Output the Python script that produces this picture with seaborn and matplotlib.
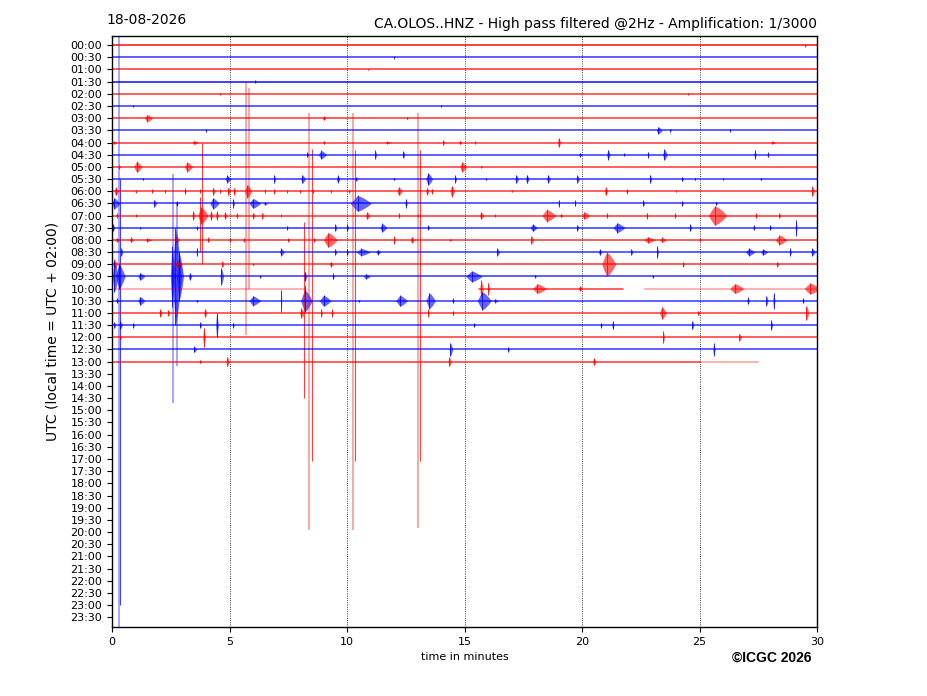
import pandas as pd
import matplotlib
matplotlib.use("Agg")
import matplotlib.pyplot as plt
import seaborn as sns

# half-hour row labels of the helicorder
hours = [f"{h:02d}:{m:02d}" for h in range(24) for m in (0, 30)]

# trace segments that carry data: (row, start minute, end minute)
trace_segments = [
    (0, 0, 30), (1, 0, 30), (2, 0, 30), (3, 0, 30), (4, 0, 30), (5, 0, 30),
    (6, 0, 30), (7, 0, 30), (8, 0, 30), (9, 0, 30), (10, 0, 30), (11, 0, 30),
    (12, 0, 30), (13, 0, 30), (14, 0, 30), (15, 0, 30), (16, 0, 30), (17, 0, 30),
    (18, 0, 30), (19, 0, 30), (20, 15.6, 21.75), (21, 0, 30), (22, 0, 30),
    (23, 0, 30), (24, 0, 30), (25, 0, 30), (26, 0, 25.0),
]
# faint segments (overlapping / partial data)
faint_segments = [(0, 0, 30), (3, 0, 30), (20, 0, 8.15), (20, 22.7, 30), (26, 25.0, 27.5)]

# events per row: (minute, half amplitude in rows, duration in minutes)
ev_00_00 = [(29.5, 0.12, 0.06)]
ev_00_30 = [(12.0, 0.1, 0.05)]
ev_01_00 = [(10.9, 0.08, 0.05)]
ev_01_30 = [(6.1, 0.12, 0.06)]
ev_02_00 = [(4.6, 0.08, 0.05), (24.5, 0.08, 0.05)]
ev_02_30 = [(0.9, 0.08, 0.05), (14.0, 0.08, 0.05)]
ev_03_00 = [(1.5, 0.3, 0.35), (9.0, 0.15, 0.2), (12.55, 0.1, 0.1)]
ev_03_30 = [(4.0, 0.12, 0.06), (23.25, 0.3, 0.25), (23.75, 0.1, 0.08), (26.3, 0.12, 0.06)]
ev_04_00 = [(0.1, 0.15, 0.15), (3.5, 0.15, 0.3), (9.0, 0.15, 0.1), (11.7, 0.1, 0.3),
            (14.1, 0.2, 0.1), (14.8, 0.15, 0.15), (15.45, 0.12, 0.06), (19.0, 0.4, 0.15),
            (28.1, 0.12, 0.2)]
ev_04_30 = [(8.3, 0.2, 0.1), (8.9, 0.35, 0.35), (11.2, 0.35, 0.1), (12.4, 0.3, 0.1),
            (19.9, 0.15, 0.15), (21.1, 0.4, 0.15), (21.8, 0.1, 0.06), (22.8, 0.25, 0.08),
            (23.5, 0.45, 0.2), (27.35, 0.35, 0.1), (27.9, 0.2, 0.08)]
ev_05_00 = [(0.3, 0.15, 0.1), (1.05, 0.45, 0.35), (3.2, 0.4, 0.35), (14.9, 0.4, 0.3),
            (15.7, 0.08, 0.1)]
ev_05_30 = [(1.3, 0.1, 0.05), (4.9, 0.3, 0.25), (6.9, 0.35, 0.1), (8.1, 0.35, 0.2),
            (9.6, 0.3, 0.15), (10.4, 0.15, 0.1), (12.0, 0.12, 0.06), (13.45, 0.5, 0.3),
            (14.6, 0.3, 0.1), (15.9, 0.1, 0.05), (17.2, 0.35, 0.15), (17.65, 0.35, 0.15),
            (18.55, 0.35, 0.15), (19.8, 0.3, 0.15), (22.9, 0.35, 0.1), (24.25, 0.2, 0.1),
            (24.8, 0.12, 0.06), (26.0, 0.1, 0.05), (27.6, 0.12, 0.06)]
ev_06_00 = [(0.15, 0.35, 0.2), (1.0, 0.12, 0.06), (1.7, 0.15, 0.06), (2.25, 0.12, 0.06),
            (3.1, 0.25, 0.1), (3.75, 0.15, 0.06), (4.3, 0.3, 0.15), (4.6, 0.15, 0.06),
            (4.95, 0.3, 0.15), (5.2, 0.3, 0.1), (5.75, 0.55, 0.3), (6.5, 0.15, 0.06),
            (6.9, 0.2, 0.06), (7.45, 0.12, 0.06), (8.0, 0.12, 0.06), (8.55, 0.15, 0.06),
            (9.3, 0.12, 0.06), (10.1, 0.12, 0.06), (12.2, 0.35, 0.25), (13.4, 0.3, 0.15),
            (13.6, 0.2, 0.1), (14.45, 0.45, 0.2), (17.0, 0.1, 0.05), (21.0, 0.35, 0.15),
            (21.9, 0.2, 0.1), (24.0, 0.1, 0.05), (29.8, 0.4, 0.15)]
ev_06_30 = [(0.1, 0.45, 0.35), (1.8, 0.3, 0.15), (2.75, 0.2, 0.1), (4.3, 0.45, 0.4),
            (5.15, 0.35, 0.1), (6.0, 0.4, 0.5), (6.5, 0.12, 0.2), (10.45, 0.65, 0.9),
            (12.5, 0.35, 0.1), (19.0, 0.3, 0.06), (19.7, 0.25, 0.06), (22.6, 0.25, 0.1),
            (24.25, 0.2, 0.1), (25.7, 0.15, 0.1)]
ev_07_00 = [(0.2, 0.2, 0.1), (1.0, 0.1, 0.05), (3.45, 0.35, 0.15), (3.8, 0.7, 0.45),
            (4.2, 0.35, 0.15), (4.45, 0.35, 0.15), (4.8, 0.3, 0.15), (5.3, 0.2, 0.1),
            (6.0, 0.25, 0.15), (6.4, 0.25, 0.1), (7.2, 0.1, 0.05), (10.85, 0.3, 0.2),
            (12.2, 0.2, 0.1), (13.0, 0.1, 0.05), (15.7, 0.3, 0.2), (16.3, 0.1, 0.05),
            (18.5, 0.5, 0.6), (19.1, 0.15, 0.15), (20.1, 0.3, 0.35), (21.05, 0.2, 0.1),
            (22.75, 0.25, 0.1), (23.95, 0.2, 0.1), (25.65, 0.8, 0.8), (27.4, 0.2, 0.1),
            (28.4, 0.2, 0.1)]
ev_07_30 = [(0.05, 0.3, 0.1), (1.2, 0.1, 0.05), (3.6, 0.15, 0.06), (7.45, 0.15, 0.06),
            (9.5, 0.3, 0.1), (10.0, 0.3, 0.1), (11.5, 0.35, 0.3), (13.45, 0.2, 0.1),
            (17.9, 0.3, 0.3), (19.8, 0.25, 0.1), (21.5, 0.4, 0.5), (24.6, 0.3, 0.1),
            (27.3, 0.2, 0.1), (28.0, 0.2, 0.1), (29.1, 0.65, 0.08)]
ev_08_00 = [(0.2, 0.15, 0.3), (0.8, 0.2, 0.2), (1.5, 0.15, 0.3), (2.75, 0.3, 0.2),
            (4.1, 0.2, 0.1), (5.0, 0.15, 0.1), (5.6, 0.15, 0.1), (7.5, 0.15, 0.1),
            (8.6, 0.15, 0.1), (9.2, 0.6, 0.6), (12.0, 0.3, 0.1), (12.75, 0.25, 0.2),
            (14.4, 0.1, 0.1), (17.85, 0.35, 0.15), (22.8, 0.25, 0.5), (23.4, 0.2, 0.3),
            (25.0, 0.12, 0.1), (28.4, 0.4, 0.5)]
ev_08_30 = [(0.4, 0.3, 0.1), (3.6, 0.35, 0.06), (7.2, 0.3, 0.2), (9.5, 0.25, 0.1),
            (10.0, 0.25, 0.1), (10.6, 0.3, 0.6), (11.3, 0.2, 0.2), (16.4, 0.3, 0.15),
            (20.75, 0.25, 0.15), (22.1, 0.25, 0.1), (23.2, 0.5, 0.08), (27.1, 0.3, 0.4),
            (27.7, 0.25, 0.3), (28.85, 0.3, 0.1), (29.8, 0.3, 0.2)]
ev_09_00 = [(0.1, 0.4, 0.2), (2.8, 0.3, 0.3), (4.7, 0.25, 0.1), (6.0, 0.1, 0.1),
            (9.3, 0.2, 0.2), (21.05, 1.0, 0.6), (24.3, 0.2, 0.1), (28.3, 0.2, 0.15)]
ev_09_30 = [(0.1, 1.3, 0.25), (0.3, 1.0, 0.4), (1.2, 0.3, 0.3), (2.55, 2.5, 0.2),
            (2.7, 4.0, 0.4), (2.85, 2.0, 0.3), (3.3, 0.3, 0.15), (4.65, 0.7, 0.15),
            (6.3, 0.1, 0.1), (8.2, 0.4, 0.15), (9.4, 0.25, 0.1), (10.8, 0.2, 0.3),
            (15.3, 0.45, 0.7), (18.0, 0.1, 0.1), (23.0, 0.1, 0.1)]
ev_10_00 = [(8.2, 0.3, 0.08), (15.7, 0.7, 0.15), (16.0, 0.5, 0.1), (18.1, 0.4, 0.6),
            (19.9, 0.2, 0.2), (26.5, 0.4, 0.6), (29.7, 0.45, 0.7)]
ev_10_30 = [(0.2, 0.2, 0.1), (1.2, 0.35, 0.3), (3.6, 0.1, 0.1), (6.0, 0.4, 0.5),
            (7.2, 0.9, 0.04), (8.2, 0.9, 0.5), (9.0, 0.45, 0.5), (10.5, 0.1, 0.1),
            (12.25, 0.45, 0.5), (13.5, 0.65, 0.4), (14.5, 0.2, 0.1), (15.75, 0.75, 0.6),
            (16.3, 0.15, 0.2), (27.05, 0.3, 0.1), (27.85, 0.4, 0.1), (28.15, 0.65, 0.1),
            (29.4, 0.2, 0.1)]
ev_11_00 = [(2.05, 0.3, 0.15), (2.4, 0.25, 0.1), (3.95, 0.35, 0.15), (8.05, 0.4, 0.2),
            (8.9, 0.3, 0.1), (9.35, 0.3, 0.1), (13.45, 0.3, 0.1), (14.5, 0.2, 0.1),
            (23.4, 0.5, 0.3), (24.95, 0.2, 0.1), (29.55, 0.6, 0.15)]
ev_11_30 = [(0.1, 0.25, 0.1), (0.35, 0.3, 0.15), (0.9, 0.2, 0.1), (3.75, 0.25, 0.1),
            (4.45, 1.0, 0.12), (5.15, 0.2, 0.1), (15.4, 0.15, 0.1), (20.8, 0.2, 0.1),
            (21.3, 0.35, 0.1), (24.7, 0.35, 0.1), (28.05, 0.4, 0.1)]
ev_12_00 = [(0.35, 0.2, 0.1), (3.9, 0.8, 0.12), (23.45, 0.5, 0.1), (26.7, 0.3, 0.15)]
ev_12_30 = [(3.5, 0.25, 0.15), (14.4, 0.55, 0.15), (16.85, 0.2, 0.1), (25.6, 0.5, 0.1)]
ev_13_00 = [(3.75, 0.15, 0.1), (4.9, 0.4, 0.15), (14.35, 0.4, 0.15), (20.5, 0.3, 0.15)]

events = [ev_00_00, ev_00_30, ev_01_00, ev_01_30, ev_02_00, ev_02_30, ev_03_00,
          ev_03_30, ev_04_00, ev_04_30, ev_05_00, ev_05_30, ev_06_00, ev_06_30,
          ev_07_00, ev_07_30, ev_08_00, ev_08_30, ev_09_00, ev_09_30, ev_10_00,
          ev_10_30, ev_11_00, ev_11_30, ev_12_00, ev_12_30, ev_13_00]

# clipped transients running over several rows: (minute, top row, bottom row, trace row)
spikes = [
    (0.3, -0.8, 47.8, 19), (0.35, 11.0, 46.0, 19),
    (2.6, 10.6, 29.4, 19), (2.75, 13.0, 26.4, 19),
    (3.75, 12.5, 17.0, 14), (3.85, 8.0, 18.0, 14),
    (5.7, 3.0, 23.8, 12), (5.85, 3.5, 20.0, 12),
    (8.15, 14.5, 29.0, 20), (8.4, 5.6, 39.8, 22), (8.5, 8.5, 34.2, 22),
    (10.26, 5.6, 39.8, 22), (10.32, 8.6, 34.2, 22),
    (13.03, 5.6, 39.7, 22), (13.1, 8.6, 34.2, 22),
]
spike_faint = [True, False, True, True, False, False, True, True,
               False, True, False, True, False, True, False]

# spindle profile: offsets as share of duration, amplitude share
env_dx = [-0.35, -0.15, 0.0, 0.2, 0.45, 0.65]
env_amp = [0.0, 0.6, 1.0, 0.8, 0.4, 0.0]


def row_color(r):
    return "red" if r % 2 == 0 else "blue"


sns.set_style("ticks", rc={"axes.edgecolor": "black", "xtick.color": "black",
                           "ytick.color": "black", "text.color": "black",
                           "axes.labelcolor": "black"})
plt.rcParams["font.family"] = ["DejaVu Sans"]

fig = plt.figure(figsize=(9.27, 6.96), dpi=100)
ax = fig.add_axes([112 / 927, 1 - 627 / 696, 705 / 927, 591 / 696])

# transients behind the traces
for (t, top, bot, r), faint in zip(spikes, spike_faint):
    ax.vlines(t, top, bot, color=row_color(r), lw=1.4 if faint else 0.8,
              alpha=0.35 if faint else 0.75)

# trace baselines (noise band)
seg = pd.DataFrame(
    [{"minute": m, "row": r, "seg": i, "color": row_color(r)}
     for i, (r, a, b) in enumerate(trace_segments) for m in (a, b)])
sns.lineplot(data=seg, x="minute", y="row", hue="color", units="seg",
             estimator=None, sort=False, palette={"red": "red", "blue": "blue"},
             linewidth=1.1, alpha=0.8, legend=False, ax=ax)
faint = pd.DataFrame(
    [{"minute": m, "row": r, "seg": i, "color": row_color(r)}
     for i, (r, a, b) in enumerate(faint_segments) for m in (a, b)])
sns.lineplot(data=faint, x="minute", y="row", hue="color", units="seg",
             estimator=None, sort=False, palette={"red": "red", "blue": "blue"},
             linewidth=1.5, alpha=0.3, legend=False, ax=ax)

# wave trains
for r, evs in enumerate(events):
    c = row_color(r)
    for t, amp, dur in evs:
        xs = [t + d * dur for d in env_dx]
        ax.fill_between(xs, [r - amp * e for e in env_amp], [r + amp * e for e in env_amp],
                        color=c, lw=0, alpha=0.6)
        ax.vlines(t, r - amp, r + amp, color=c, lw=0.6, alpha=0.9)

ax.set_xlim(0, 30)
ax.set_ylim(47.8, -0.75)
ax.set_xticks(range(0, 31, 5))
ax.set_yticks(range(len(hours)))
ax.set_yticklabels(hours)
ax.tick_params(labelsize=8)
ax.grid(axis="x", linestyle=":", color="black", lw=0.6)
ax.grid(axis="y", visible=False)
ax.set_xlabel("time in minutes", fontsize=8)
ax.set_ylabel("UTC (local time = UTC + 02:00)", fontsize=10, labelpad=8)
ax.set_title("CA.OLOS..HNZ - High pass filtered @2Hz - Amplification: 1/3000",
             loc="right", fontsize=10)
for s in ax.spines.values():
    s.set_visible(True)
    s.set_linewidth(1.0)

fig.text(106 / 927, 1 - 20 / 696, "18-08-2026", ha="left", va="center", fontsize=10)
fig.text(811 / 927, 1 - 658 / 696, "©ICGC 2026", ha="right", va="center",
         fontsize=10, fontweight="bold", family=["Liberation Sans", "DejaVu Sans"])

fig.savefig("out.png", dpi=100)
